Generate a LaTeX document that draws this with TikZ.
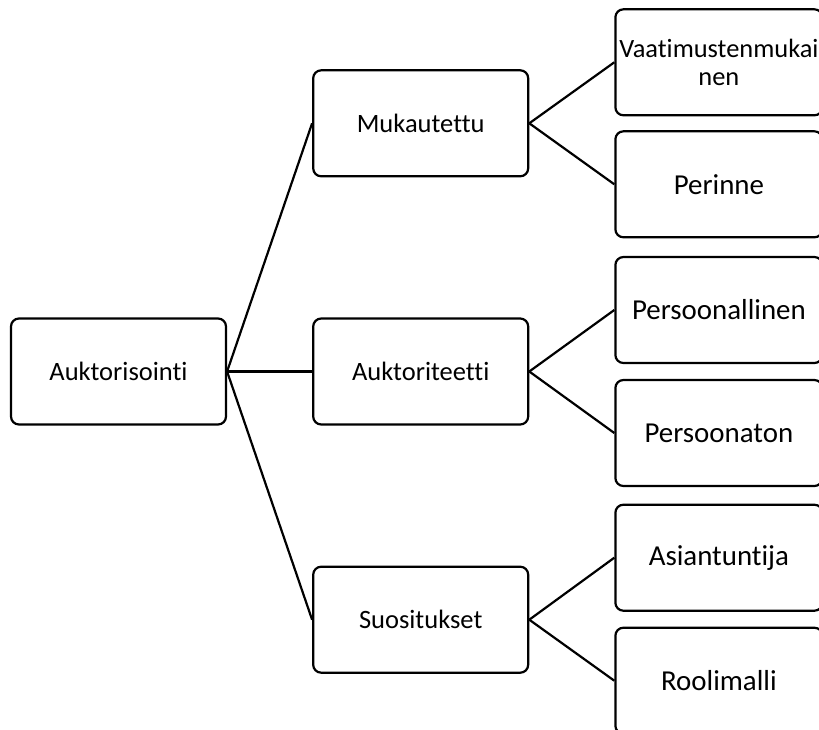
\documentclass[tikz,border=0pt]{standalone}
\usepackage{fontspec}
\setmainfont{Carlito}[Ligatures=NoCommon]
\usetikzlibrary{positioning}
\begin{document}
\begin{tikzpicture}
    \tikzstyle{main}=[rectangle, rounded corners=8pt, line width=2.2pt, draw=black, minimum width=215pt, minimum height=106pt, inner sep=0pt, align=center, font=\fontsize{26.5}{28}\selectfont]
    \tikzstyle{leaf}=[main, minimum width=207pt, font=\fontsize{28.9}{30}\selectfont]
    \tikzstyle{connect}=[line width=2.2pt]
    \useasboundingbox (0,0) rectangle (819pt,-729pt);
      \node[main] (auk) at (118.5pt,-371.5pt) {Auktorisointi};
      \node[main] (aukt) [right=85pt of auk] {Auktoriteetti};
      \node[main] (muk) [above=140pt of aukt] {Mukautettu};
      \node[main] (suo) [below=140pt of aukt] {Suositukset};
      \node[leaf, font=\fontsize{26.4}{28}\selectfont] (vaa) [right=85pt of muk, yshift=61pt] {Vaatimustenmukai\\nen};
      \node[leaf] (per) [right=85pt of muk, yshift=-61pt] {Perinne};
      \node[leaf] (pers) [right=85pt of aukt, yshift=61.5pt] {Persoonallinen};
      \node[leaf] (perst) [right=85pt of aukt, yshift=-61.5pt] {Persoonaton};
      \node[leaf] (asi) [right=85pt of suo, yshift=62pt] {Asiantuntija};
      \node[leaf] (roo) [right=85pt of suo, yshift=-61pt] {Roolimalli};
      \path (auk.east) edge [connect] (muk.west)
            (auk.east) edge [connect] (aukt.west)
            (auk.east) edge [connect] (suo.west);
      \path (muk.east) edge [connect] (vaa.west)
            (muk.east) edge [connect] (per.west)
            (aukt.east) edge [connect] (pers.west)
            (aukt.east) edge [connect] (perst.west)
            (suo.east) edge [connect] (asi.west)
            (suo.east) edge [connect] (roo.west);
\end{tikzpicture}
\end{document}
